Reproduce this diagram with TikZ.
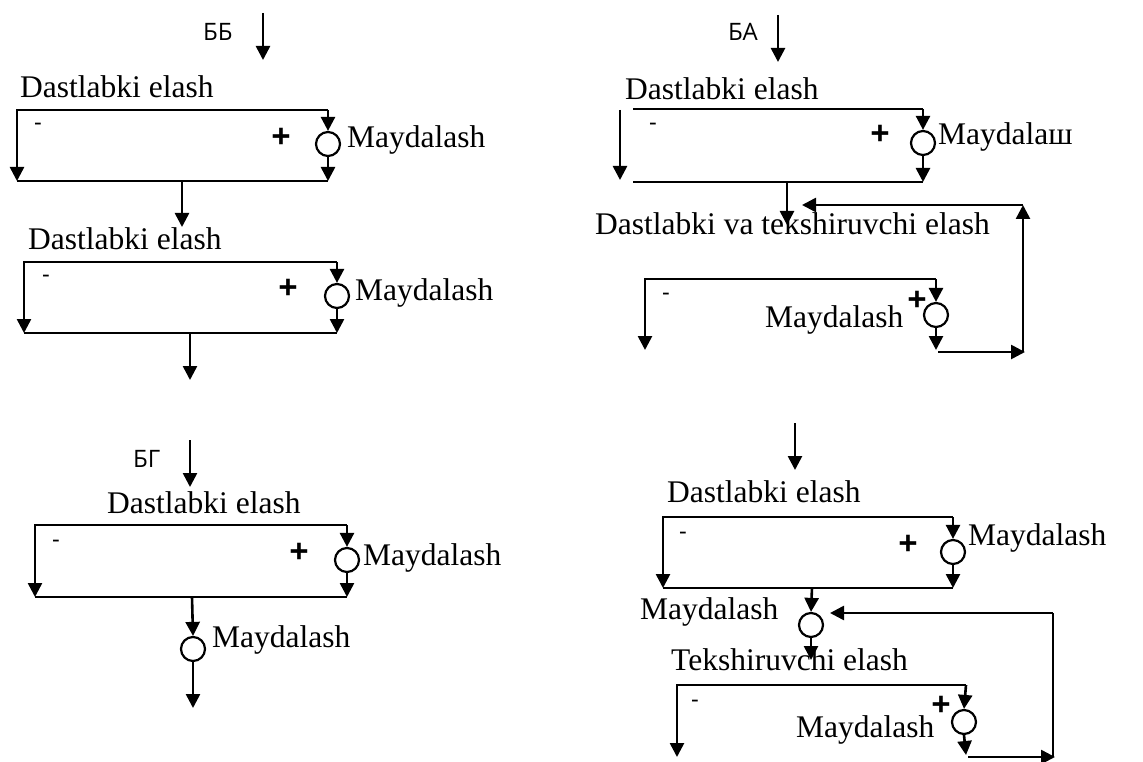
\documentclass[tikz,border=0pt]{standalone}
\usepackage{fontspec}
\setmainfont{Liberation Serif}
\newfontfamily\osfont{Open Sans}
\usetikzlibrary{arrows.meta}
\tikzset{
  flow/.style={line width=2.6pt, line join=miter, -{Triangle[length=14pt,width=14pt]}},
  ln/.style={line width=2.4pt, line join=miter},
  grinder/.style={circle, draw, line width=2.2pt, minimum size=24pt, inner sep=0pt, fill=white},
  lbl/.style={anchor=base west, inner sep=0pt, font=\fontsize{31.5pt}{36pt}\selectfont},
  tag/.style={anchor=base west, inner sep=0pt, font=\osfont\fontsize{24pt}{28pt}\selectfont},
  plus/.style={inner sep=0pt, font=\osfont\bfseries\fontsize{34pt}{38pt}\selectfont},
  minus/.style={inner sep=0pt, font=\osfont\fontsize{24pt}{28pt}\selectfont}
}
\begin{document}
\begin{tikzpicture}[x=1pt,y=-1pt]
\useasboundingbox (0,0) rectangle (1143,762);

% ================= Panel BB =================
\node[tag] (tBB) at (203,41) {ББ};
\coordinate (p1in) at (263,13);
\coordinate (p1inE) at (263,60);
\draw[flow] (p1in) -- (p1inE);
\node[lbl] (d1) at (20,98) {Dastlabki elash};
\coordinate (b1tl) at (17,110);
\coordinate (b1tr) at (328,110);
\coordinate (b1bl) at (17,181);
\coordinate (b1br) at (328,181);
\node[grinder] (g1) at (328,144) {};
\draw[flow] (b1tr) -- (b1tl) -- (b1bl);
\draw[flow] (b1tr) -- (g1.north);
\draw[flow] (g1.south) -- (b1br);
\draw[ln] (b1bl) -- (b1br);
\node[minus] (m1) at (38,127) {-};
\node[plus] (pl1) at (281,138) {+};
\node[lbl] (y1) at (347,148) {Maydalash};
\coordinate (b1o) at (182,181);
\coordinate (b1oE) at (182,227);
\draw[flow] (b1o) -- (b1oE);

\node[lbl] (d2) at (28,250) {Dastlabki elash};
\coordinate (b2tl) at (24,262);
\coordinate (b2tr) at (337,262);
\coordinate (b2bl) at (24,333);
\coordinate (b2br) at (337,333);
\node[grinder] (g2) at (337,296) {};
\draw[flow] (b2tr) -- (b2tl) -- (b2bl);
\draw[flow] (b2tr) -- (g2.north);
\draw[flow] (g2.south) -- (b2br);
\draw[ln] (b2bl) -- (b2br);
\node[minus] (m2) at (46,279) {-};
\node[plus] (pl2) at (288,289) {+};
\node[lbl] (y2) at (355,300) {Maydalash};
\coordinate (b2o) at (190,333);
\coordinate (b2oE) at (190,380);
\draw[flow] (b2o) -- (b2oE);

% ================= Panel BG =================
\node[tag] (tBG) at (133,467) {БГ};
\coordinate (p3in) at (190,440);
\coordinate (p3inE) at (190,487);
\draw[flow] (p3in) -- (p3inE);
\node[lbl] (d3) at (107,513) {Dastlabki elash};
\coordinate (b3tl) at (35,525);
\coordinate (b3tr) at (347,525);
\coordinate (b3bl) at (35,597);
\coordinate (b3br) at (347,597);
\node[grinder] (g3) at (347,560) {};
\draw[flow] (b3tr) -- (b3tl) -- (b3bl);
\draw[flow] (b3tr) -- (g3.north);
\draw[flow] (g3.south) -- (b3br);
\draw[ln] (b3bl) -- (b3br);
\node[minus] (m3) at (56,544) {-};
\node[plus] (pl3) at (299,553) {+};
\node[lbl] (y3) at (363,565) {Maydalash};
\coordinate (b3o) at (192,597);
\node[grinder] (g4) at (193,649) {};
\draw[flow] (b3o) -- (g4.north);
\coordinate (g4E) at (193,708);
\draw[flow] (g4.south) -- (g4E);
\node[lbl] (y4) at (212,647) {Maydalash};

% ================= Panel BA =================
\node[tag] (tBA) at (728,41) {БА};
\coordinate (p5in) at (778,15);
\coordinate (p5inE) at (778,62);
\draw[flow] (p5in) -- (p5inE);
\node[lbl] (d5) at (625,100) {Dastlabki elash};
\coordinate (b5tl) at (633,109);
\coordinate (b5tr) at (923,109);
\coordinate (b5bl) at (633,182);
\coordinate (b5br) at (923,182);
\coordinate (b5L) at (620,110);
\coordinate (b5LE) at (620,180);
\node[grinder] (g5) at (923,143) {};
\draw[ln] (b5tl) -- (b5tr);
\draw[flow] (b5L) -- (b5LE);
\draw[flow] (b5tr) -- (g5.north);
\draw[flow] (g5.south) -- (b5br);
\draw[ln] (b5bl) -- (b5br);
\node[minus] (m5) at (653,127) {-};
\node[plus] (pl5) at (880,135) {+};
\node[lbl] (y5) at (938,145) {Maydalaш};
\coordinate (b5o) at (787,182);
\coordinate (b5oE) at (787,225);
\draw[flow] (b5o) -- (b5oE);

\node[lbl] (d6) at (595,234) {Dastlabki va tekshiruvchi elash};
\coordinate (b6tl) at (645,279);
\coordinate (b6tr) at (936,279);
\coordinate (b6bl) at (645,350);
\coordinate (b6br) at (936,350);
\node[grinder] (g6) at (936,315) {};
\draw[flow] (b6tr) -- (b6tl) -- (b6bl);
\draw[flow] (b6tr) -- (g6.north);
\draw[flow] (g6.south) -- (b6br);
\node[minus] (m6) at (666,297) {-};
\node[plus] (pl6) at (917,301) {+};
\node[lbl] (y6) at (765,327) {Maydalash};
\coordinate (f6a) at (938,352);
\coordinate (f6b) at (1025,352);
\coordinate (f6c) at (1023,352);
\coordinate (f6d) at (1023,205);
\coordinate (f6e) at (802,205);
\draw[flow] (f6a) -- (f6b);
\draw[flow] (f6c) -- (f6d);
\draw[flow] (f6d) -- (f6e);

% ================= Panel bottom right =================
\coordinate (p7in) at (795,423);
\coordinate (p7inE) at (795,470);
\draw[flow] (p7in) -- (p7inE);
\node[lbl] (d7) at (667,502) {Dastlabki elash};
\coordinate (b7tl) at (663,517);
\coordinate (b7tr) at (953,517);
\coordinate (b7bl) at (663,588);
\coordinate (b7br) at (953,588);
\node[grinder] (g7) at (953,552) {};
\draw[flow] (b7tr) -- (b7tl) -- (b7bl);
\draw[flow] (b7tr) -- (g7.north);
\draw[flow] (g7.south) -- (b7br);
\draw[ln] (b7bl) -- (b7br);
\node[minus] (m7) at (683,536) {-};
\node[plus] (pl7) at (908,545) {+};
\node[lbl] (y7) at (968,545) {Maydalash};
\coordinate (b7o) at (812,588);
\node[grinder] (g8) at (811,625) {};
\draw[flow] (b7o) -- (g8.north);
\coordinate (g8E) at (811,660);
\draw[flow] (g8.south) -- (g8E);
\node[lbl] (y8) at (640,619) {Maydalash};

\node[lbl] (d9) at (671,670) {Tekshiruvchi elash};
\coordinate (b9tl) at (677,685);
\coordinate (b9tr) at (966,685);
\coordinate (b9bl) at (677,757);
\coordinate (b9br) at (966,755);
\node[grinder] (g9) at (964,722) {};
\draw[flow] (b9tr) -- (b9tl) -- (b9bl);
\draw[flow] (b9tr) -- (g9.north);
\draw[flow] (g9.south) -- (b9br);
\node[minus] (m9) at (695,704) {-};
\node[plus] (pl9) at (941,706) {+};
\node[lbl] (y9) at (796,737) {Maydalash};
\coordinate (f9a) at (968,757);
\coordinate (f9b) at (1055,757);
\coordinate (f9c) at (1053,757);
\coordinate (f9d) at (1053,613);
\coordinate (f9e) at (830,613);
\draw[flow] (f9a) -- (f9b);
\draw[ln] (f9c) -- (f9d);
\draw[flow] (f9d) -- (f9e);
\end{tikzpicture}
\end{document}
